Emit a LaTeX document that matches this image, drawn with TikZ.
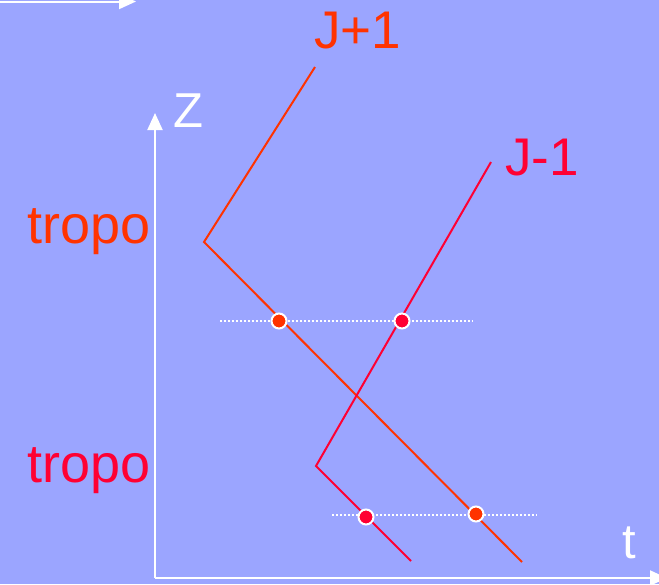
\documentclass[tikz,border=0pt]{standalone}
\usepackage{fontspec}
\setmainfont{Liberation Sans}
\usepackage{tikz}
\usetikzlibrary{arrows.meta, positioning}
\definecolor{bgblue}{HTML}{9BA5FF}
\definecolor{upred}{HTML}{FF3300}
\definecolor{downred}{HTML}{FF0033}
\tikzstyle{axis}     = [draw=white, line width=2pt, -{Triangle[length=17pt, width=15pt]}]
\tikzstyle{pathplus} = [draw=upred, line width=2pt]
\tikzstyle{pathminus}= [draw=downred, line width=2pt]
\tikzstyle{level}    = [draw=white, line width=2pt, dash pattern=on 2pt off 2pt]
\tikzstyle{crossdot} = [circle, draw=white, line width=2pt, minimum size=15pt, inner sep=0pt]
\tikzstyle{biglabel} = [anchor=base west, inner sep=0pt, font=\fontsize{53}{60}\selectfont]
\tikzstyle{axlabel}  = [anchor=base west, inner sep=0pt, text=white, font=\fontsize{49}{55}\selectfont]

\begin{document}
\begin{tikzpicture}[x=1pt, y=-1pt]
    \fill[bgblue] (0,0) rectangle (659,584);
    \useasboundingbox (0,0) rectangle (659,584);

    % axes
    \coordinate (origin) at (155,578);
    \coordinate (ztip) at (155,113);
    \coordinate (ttip) at (667,578);
    \coordinate (topstart) at (-5,1.5);
    \coordinate (toptip) at (136,1.5);
    \draw[axis] (topstart) -- (toptip);
    \draw[axis] (origin) -- (ztip);
    \draw[axis] (origin) -- (ttip);
    \node (zlab) [axlabel] at (173,127) {Z};
    \node (tlab) [axlabel] at (622,558) {t};

    % labels
    \node (jplus) [biglabel, text=upred] at (314,48) {J+1};
    \node (jminus) [biglabel, text=downred] at (505,175) {J-1};
    \node (tropoup) [biglabel, text=upred, font=\fontsize{54}{60}\selectfont] at (27,243) {tropo};
    \node (tropodown) [biglabel, text=downred, font=\fontsize{54}{60}\selectfont] at (27,482) {tropo};

    % level lines
    \coordinate (lvlAw) at (220,321);
    \coordinate (lvlAe) at (473,321);
    \coordinate (lvlBw) at (332,515);
    \coordinate (lvlBe) at (537,515);
    \draw[level] (lvlAw) -- (lvlAe);
    \draw[level] (lvlBw) -- (lvlBe);

    % rays
    \coordinate (plustop) at (315,67);
    \coordinate (plusbend) at (204,242);
    \coordinate (plusend) at (522,562);
    \coordinate (minustop) at (491,162);
    \coordinate (minusbend) at (316,466);
    \coordinate (minusend) at (411,561);
    \draw[pathplus] (plustop) -- (plusbend) -- (plusend);
    \draw[pathminus] (minustop) -- (minusbend) -- (minusend);

    % crossings
    \node (dotA) [crossdot, fill=upred] at (279,321) {};
    \node (dotB) [crossdot, fill=downred] at (402,321) {};
    \node (dotC) [crossdot, fill=downred] at (366,517) {};
    \node (dotD) [crossdot, fill=upred] at (476,514) {};
\end{tikzpicture}
\end{document}
